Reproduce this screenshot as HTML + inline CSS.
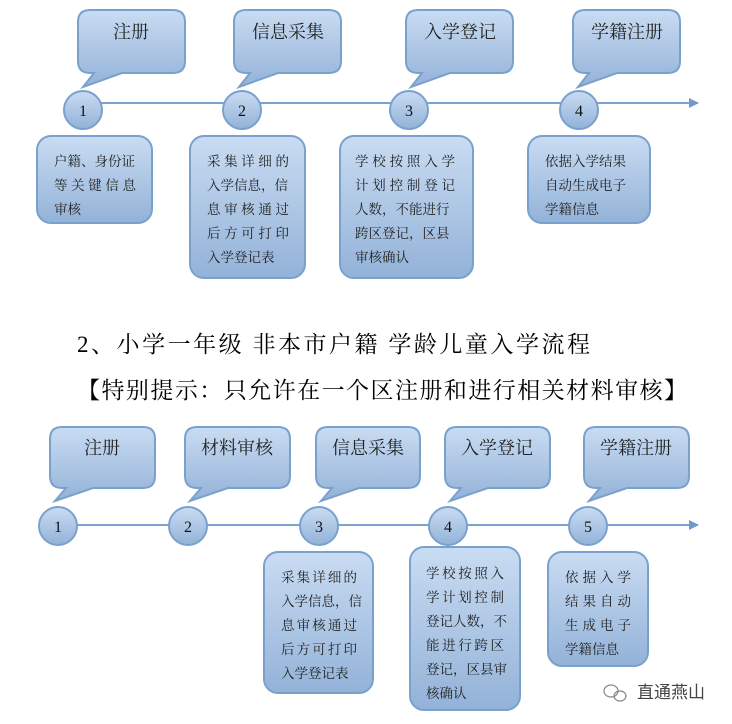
<!DOCTYPE html>
<html><head><meta charset="utf-8"><style>
body{margin:0;background:#fff;width:732px;height:724px;overflow:hidden}
svg{display:block}
.c{font-family:"Liberation Serif","Noto Serif CJK SC",serif;font-size:18px;fill:#222;text-anchor:middle}
.n{font-family:"Liberation Serif",serif;font-size:16px;fill:#111;text-anchor:middle}
.b{font-family:"Liberation Serif","Noto Serif CJK SC",serif;font-size:13.5px;fill:#222}
.h{font-family:"Liberation Serif","Noto Serif CJK SC",serif;font-size:23px;fill:#000}
</style></head><body>
<svg width="732" height="724" viewBox="0 0 732 724">
<defs>
<linearGradient id="g" x1="0" y1="0" x2="0" y2="1"><stop offset="0" stop-color="#c9dcf2"/><stop offset="1" stop-color="#93b2d8"/></linearGradient>
<marker id="ar" markerWidth="10" markerHeight="10" refX="9" refY="5" orient="auto" markerUnits="userSpaceOnUse"><path d="M0,0 L10,5 L0,10 z" fill="#6e9bcb"/></marker>
</defs>
<g stroke="#7aa1cd" stroke-width="2" fill="url(#g)">
<line x1="100" y1="103" x2="698" y2="103" stroke="#7ba3cf" marker-end="url(#ar)"/>
<path d="M90,10 H173 Q185,10 185,22 V61 Q185,73 173,73 H122 L83,87 L94,73 H90 Q78,73 78,61 V22 Q78,10 90,10 Z"/>
<path d="M246,10 H329 Q341,10 341,22 V61 Q341,73 329,73 H278 L239,87 L250,73 H246 Q234,73 234,61 V22 Q234,10 246,10 Z"/>
<path d="M418,10 H501 Q513,10 513,22 V61 Q513,73 501,73 H450 L411,87 L422,73 H418 Q406,73 406,61 V22 Q406,10 418,10 Z"/>
<path d="M585,10 H668 Q680,10 680,22 V61 Q680,73 668,73 H617 L578,87 L589,73 H585 Q573,73 573,61 V22 Q573,10 585,10 Z"/>
<circle cx="83" cy="110" r="19"/><circle cx="242" cy="110" r="19"/><circle cx="409" cy="110" r="19"/><circle cx="579" cy="110" r="19"/>
<rect x="37" y="136" width="115" height="87" rx="14"/>
<rect x="190" y="136" width="115" height="142" rx="14"/>
<rect x="340" y="136" width="133" height="142" rx="14"/>
<rect x="528" y="136" width="122" height="87" rx="14"/>
<line x1="75" y1="525" x2="698" y2="525" stroke="#7ba3cf" marker-end="url(#ar)"/>
<path d="M62,427 H143 Q155,427 155,439 V476 Q155,488 143,488 H93 L55,501 L66,488 H62 Q50,488 50,476 V439 Q50,427 62,427 Z"/>
<path d="M197,427 H278 Q290,427 290,439 V476 Q290,488 278,488 H228 L190,501 L201,488 H197 Q185,488 185,476 V439 Q185,427 197,427 Z"/>
<path d="M328,427 H408 Q420,427 420,439 V476 Q420,488 408,488 H359 L321,501 L332,488 H328 Q316,488 316,476 V439 Q316,427 328,427 Z"/>
<path d="M457,427 H538 Q550,427 550,439 V476 Q550,488 538,488 H488 L450,501 L461,488 H457 Q445,488 445,476 V439 Q445,427 457,427 Z"/>
<path d="M596,427 H677 Q689,427 689,439 V476 Q689,488 677,488 H627 L589,501 L600,488 H596 Q584,488 584,476 V439 Q584,427 596,427 Z"/>
<circle cx="58" cy="526" r="19"/><circle cx="188" cy="526" r="19"/><circle cx="319" cy="526" r="19"/><circle cx="448" cy="526" r="19"/><circle cx="588" cy="526" r="19"/>
<rect x="264" y="552" width="109" height="141" rx="14"/>
<rect x="410" y="547" width="110" height="163" rx="14"/>
<rect x="548" y="552" width="100" height="114" rx="14"/>
</g>
<g class="c">
<text x="131" y="38">注册</text><text x="288" y="38">信息采集</text><text x="460" y="38">入学登记</text><text x="627" y="38">学籍注册</text>
<text x="102" y="454">注册</text><text x="237" y="454">材料审核</text><text x="368" y="454">信息采集</text><text x="497" y="454">入学登记</text><text x="636" y="454">学籍注册</text>
</g>
<g class="n">
<text x="83" y="116">1</text><text x="242" y="116">2</text><text x="409" y="116">3</text><text x="579" y="116">4</text>
<text x="58" y="532">1</text><text x="188" y="532">2</text><text x="319" y="532">3</text><text x="448" y="532">4</text><text x="588" y="532">5</text>
</g>
<g class="b">
<text x="54" y="166">户籍、身份证</text><text x="54" y="190" textLength="82">等关键信息</text><text x="54" y="214">审核</text>
<text x="207" y="166" textLength="82">采集详细的</text><text x="207" y="190">入学信息，信</text><text x="207" y="214" textLength="82">息审核通过</text><text x="207" y="238" textLength="82">后方可打印</text><text x="207" y="262">入学登记表</text>
<text x="355" y="166" textLength="100">学校按照入学</text><text x="355" y="190" textLength="100">计划控制登记</text><text x="355" y="214">人数，不能进行</text><text x="355" y="238">跨区登记，区县</text><text x="355" y="262">审核确认</text>
<text x="545" y="166">依据入学结果</text><text x="545" y="190">自动生成电子</text><text x="545" y="214">学籍信息</text>
<text x="281" y="582" textLength="76">采集详细的</text><text x="281" y="606">入学信息，信</text><text x="281" y="630" textLength="76">息审核通过</text><text x="281" y="654" textLength="76">后方可打印</text><text x="281" y="678">入学登记表</text>
<text x="426" y="578" textLength="78">学校按照入</text><text x="426" y="602" textLength="78">学计划控制</text><text x="426" y="626">登记人数，不</text><text x="426" y="650" textLength="78">能进行跨区</text><text x="426" y="674">登记，区县审</text><text x="426" y="698">核确认</text>
<text x="565" y="582" textLength="66">依据入学</text><text x="565" y="606" textLength="66">结果自动</text><text x="565" y="630" textLength="66">生成电子</text><text x="565" y="654">学籍信息</text>
</g>
<text class="h" x="77" y="352" textLength="513">2、小学一年级 非本市户籍 学龄儿童入学流程</text>
<text class="h" x="77" y="398" textLength="610">【特别提示：只允许在一个区注册和进行相关材料审核】</text>
<g fill="none" stroke="#888" stroke-width="1.2"><ellipse cx="611" cy="691" rx="7" ry="6"/><ellipse cx="620" cy="696" rx="6" ry="5"/></g>
<text x="637" y="698" font-family="'Noto Sans CJK SC',sans-serif" font-size="17" fill="#444">直通燕山</text>
</svg>
</body></html>
